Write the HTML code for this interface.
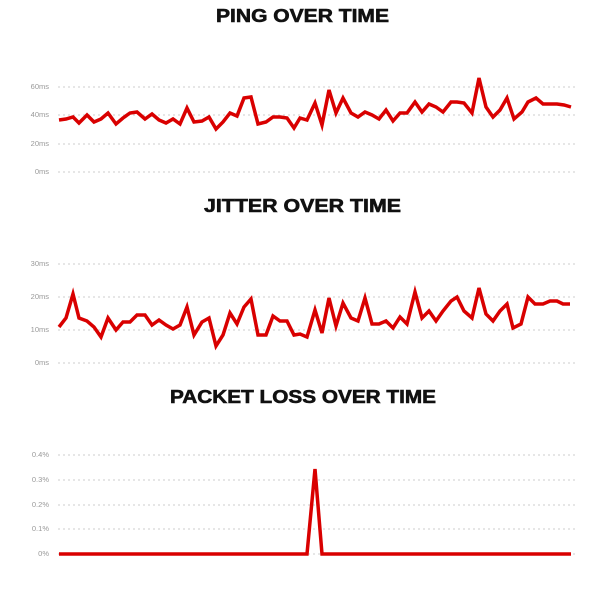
<!DOCTYPE html>
<html><head><meta charset="utf-8"><style>
html,body{margin:0;padding:0;background:#fff;}
svg{display:block;}
.t{font-family:"Liberation Sans",Arial,sans-serif;font-weight:900;font-size:18px;fill:#111;stroke:#111;stroke-width:0.6;}
.l{font-family:"Liberation Sans",Arial,sans-serif;font-size:7.5px;fill:#999;text-anchor:end;}
.g{stroke:#ccc;stroke-width:1;stroke-dasharray:2,3;}
.s{fill:none;stroke:#d90000;stroke-width:3.5;stroke-linejoin:miter;}
</style></head><body>
<svg width="600" height="589" viewBox="0 0 600 589" xmlns="http://www.w3.org/2000/svg">
<text class="t" x="216" y="22" textLength="173" lengthAdjust="spacingAndGlyphs">PING OVER TIME</text>
<text class="t" x="204" y="212" textLength="197" lengthAdjust="spacingAndGlyphs">JITTER OVER TIME</text>
<text class="t" x="170" y="403" textLength="266" lengthAdjust="spacingAndGlyphs">PACKET LOSS OVER TIME</text>

<g>
<line class="g" x1="58" x2="578" y1="87" y2="87"/><text class="l" x="49" y="89">60ms</text>
<line class="g" x1="58" x2="578" y1="115" y2="115"/><text class="l" x="49" y="117">40ms</text>
<line class="g" x1="58" x2="578" y1="144" y2="144"/><text class="l" x="49" y="146">20ms</text>
<line class="g" x1="58" x2="578" y1="172" y2="172"/><text class="l" x="49" y="174">0ms</text>
<polyline class="s" points="59,120 66,119 73,117 79,123 87,115 94,122 101,119 108,113 116,124 123,118 130,113 137,112 145,119 152,114 159,120 166,123 173,119 180,124 187,108 194,122 202,121 209,117 216,129 223,122 230,113 237,116 244,98 251,97 258,124 266,122 273,117 280,117 287,118 294,128 300,118 307,120 315,103 322,125 329,90 336,113 343,98 351,113 358,117 365,112 372,115 379,119 386,110 393,121 400,113 407,113 415,102 422,112 429,104 436,107 443,112 451,102 457,102 464,103 472,113 479,78 486,107 493,117 500,110 507,98 514,119 522,112 528,102 536,98 543,104 550,104 557,104 564,105 571,107"/>
</g>

<g>
<line class="g" x1="58" x2="578" y1="264" y2="264"/><text class="l" x="49" y="266">30ms</text>
<line class="g" x1="58" x2="578" y1="297" y2="297"/><text class="l" x="49" y="299">20ms</text>
<line class="g" x1="58" x2="578" y1="330" y2="330"/><text class="l" x="49" y="332">10ms</text>
<line class="g" x1="58" x2="578" y1="363" y2="363"/><text class="l" x="49" y="365">0ms</text>
<polyline class="s" points="59,327 66,318 73,294 79,318 87,321 94,327 101,337 108,318 116,330 123,322 130,322 137,315 145,315 152,325 159,320 166,325 173,329 180,325 187,307 194,335 202,322 209,318 216,346 223,335 230,313 237,324 244,307 251,299 258,335 266,335 273,316 280,321 287,321 294,335 300,334 307,337 315,310 322,333 329,298 336,326 343,303 351,318 358,321 365,298 372,324 379,324 386,321 393,328 400,317 407,324 415,292 422,318 429,311 436,321 443,311 451,301 457,297 464,311 472,318 479,288 486,314 493,321 500,311 507,304 513,328 521,324 528,297 535,304 543,304 550,301 557,301 563,304 570,304"/>
</g>

<g>
<line class="g" x1="58" x2="578" y1="455" y2="455"/><text class="l" x="49" y="457">0.4%</text>
<line class="g" x1="58" x2="578" y1="480" y2="480"/><text class="l" x="49" y="482">0.3%</text>
<line class="g" x1="58" x2="578" y1="505" y2="505"/><text class="l" x="49" y="507">0.2%</text>
<line class="g" x1="58" x2="578" y1="529" y2="529"/><text class="l" x="49" y="531">0.1%</text>
<line class="g" x1="58" x2="578" y1="554" y2="554"/><text class="l" x="49" y="556">0%</text>
<polyline class="s" points="59,554 307,554 315,469 322,554 571,554"/>
</g>
</svg>
</body></html>
